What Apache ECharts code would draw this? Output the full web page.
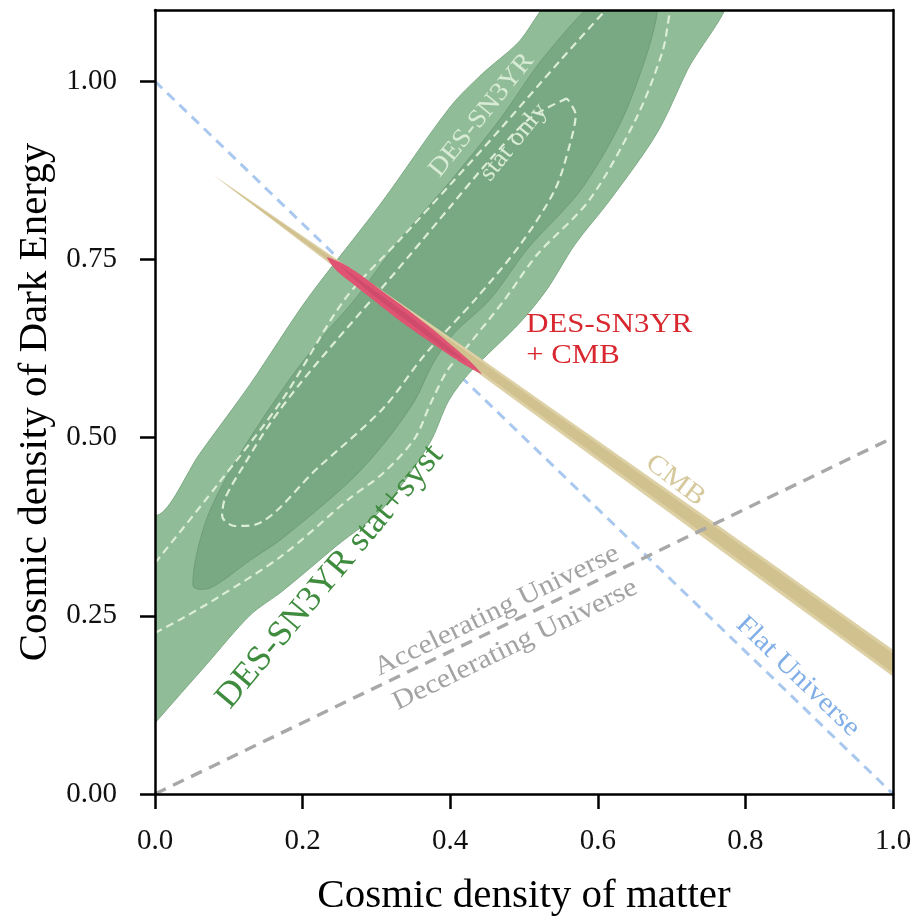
<!DOCTYPE html>
<html>
<head>
<meta charset="utf-8">
<script src="https://cdn.jsdelivr.net/npm/echarts@6/dist/echarts.min.js"></script>
<style>html,body{margin:0;padding:0;background:#fff}#chart{width:915px;height:922px}</style>
</head>
<body>
<div id="chart"></div>
<script>
// ---- tick values ----
const xTickValues = [0, 0.2, 0.4, 0.6, 0.8, 1.0];
const yTickValues = [0, 0.25, 0.5, 0.75, 1.0];

// ---- DES-SN3YR stat+syst contours (Omega_m, Omega_Lambda) ----
const sysOuter = [
  [0.003,0.391],[0.061,0.478],[0.129,0.575],[0.206,0.694],[0.305,0.827],[0.400,0.964],
  [0.444,1.011],[0.491,1.053],[0.552,1.125],[0.774,1.125],[0.721,1.015],[0.680,0.927],
  [0.617,0.834],[0.569,0.771],[0.531,0.708],[0.495,0.662],[0.427,0.592],[0.398,0.552],
  [0.372,0.492],[0.309,0.401],[0.247,0.349],[0.173,0.285],[0.129,0.251],[0.070,0.182],
  [0.003,0.103],[-0.04,0.05],[-0.04,0.45]
];
const sysInner = [
  [0.0515,0.292],[0.068,0.380],[0.106,0.461],[0.173,0.568],[0.224,0.638],[0.271,0.694],
  [0.332,0.778],[0.402,0.862],[0.467,0.946],[0.531,1.039],[0.614,1.125],[0.681,1.125],
  [0.644,0.973],[0.580,0.852],[0.504,0.764],[0.454,0.694],[0.404,0.645],[0.376,0.603],
  [0.352,0.552],[0.312,0.494],[0.264,0.439],[0.173,0.359],[0.129,0.328],[0.0745,0.289]
];
// ---- DES-SN3YR stat only (dashed) ----
const statOuter = [
  [0,0.324],[0.084,0.433],[0.173,0.554],[0.257,0.694],[0.332,0.778],[0.400,0.855],
  [0.467,0.932],[0.549,1.029],[0.610,1.099],[0.637,1.127],[0.705,1.127],[0.698,1.099],
  [0.688,1.043],[0.653,0.950],[0.589,0.834],[0.518,0.757],[0.474,0.694],[0.420,0.624],
  [0.396,0.594],[0.373,0.547],[0.352,0.499],[0.309,0.450],[0.264,0.415],[0.173,0.335],
  [0.084,0.275],[0.038,0.247],[0,0.226]
];
const statInner = [
  [0.558,0.976],[0.508,0.948],[0.454,0.890],[0.400,0.824],[0.346,0.757],[0.294,0.694],
  [0.247,0.638],[0.196,0.575],[0.156,0.520],[0.122,0.464],[0.095,0.415],[0.091,0.390],
  [0.108,0.376],[0.136,0.378],[0.220,0.457],[0.309,0.541],[0.366,0.617],[0.434,0.694],
  [0.495,0.771],[0.542,0.848],[0.562,0.911],[0.570,0.953],[0.558,0.976]
];
// ---- CMB band ----
const cmbOuter = [
  [0.0786,0.869],[0.237,0.757],[0.440,0.612],[0.752,0.385],[1.0,0.2025],
  [1.0,0.165],[0.752,0.353],[0.440,0.589],[0.237,0.744]
];
const cmbInner = [
  [0.088,0.861],[0.237,0.754],[0.440,0.608],[0.752,0.380],[1.0,0.197],
  [1.0,0.170],[0.752,0.359],[0.440,0.594],[0.237,0.747]
];
// ---- DES-SN3YR + CMB ----
const combOuter = [
  [0.233,0.753],[0.255,0.744],[0.278,0.729],[0.310,0.704],[0.343,0.679],[0.375,0.653],
  [0.406,0.626],[0.427,0.607],[0.443,0.589],[0.423,0.600],[0.400,0.615],[0.366,0.639],
  [0.333,0.663],[0.301,0.689],[0.269,0.715],[0.246,0.734]
];
const combInner = [
  [0.252,0.740],[0.290,0.712],[0.343,0.672],[0.398,0.627],[0.420,0.607],
  [0.395,0.622],[0.340,0.665],[0.286,0.708]
];
// ---- reference lines ----
const flatLine = [[0,1],[1,0]];
const accelLine = [[0,0],[1,0.5]];

// ---- annotations ----
const annotations = [
  {text:'DES-SN3YR', at:[0.4427,0.9524], rot:51, color:'#d8ebd5', size:26, sx:1.08},
  {text:'stat only', at:[0.4862,0.9145], rot:51, color:'#d8ebd5', size:25, sx:1.08},
  {text:'DES-SN3YR stat+syst', at:[0.237,0.305], rot:50, color:'#3f8c3f', size:35, sx:1.04},
  {text:'DES-SN3YR', at:[0.503,0.659], rot:0, color:'#d8272e', size:28, sx:1.1, align:'left'},
  {text:'+ CMB', at:[0.503,0.6145], rot:0, color:'#d8272e', size:28, sx:1.1, align:'left'},
  {text:'CMB', at:[0.705,0.440], rot:-37, color:'#d6c99d', size:27, sx:1.12},
  {text:'Accelerating Universe', at:[0.463,0.257], rot:26, color:'#a3a3a3', size:27, sx:1.11},
  {text:'Decelerating Universe', at:[0.488,0.209], rot:26, color:'#a3a3a3', size:27, sx:1.11},
  {text:'Flat Universe', at:[0.871,0.165], rot:-44, color:'#80aee6', size:27, sx:1.1}
];

const FONT = '"Liberation Serif", "Times New Roman", serif';

function polygonSeries(pts, fill, stroke, z, smooth) {
  return {
    type: 'custom', coordinateSystem: 'cartesian2d', clip: true, silent: true, z: z,
    data: [[pts[0][0], pts[0][1]]],
    renderItem: function (params, api) {
      return {
        type: 'polygon',
        shape: { points: pts.map(function (p) { return api.coord(p); }), smooth: smooth || 0 },
        style: { fill: fill, stroke: stroke || null, lineWidth: stroke ? 1 : 0 }
      };
    }
  };
}
function dashedSeries(pts, z) {
  return {
    type: 'line', data: pts, showSymbol: false, symbol: 'none', silent: true, clip: true,
    smooth: 0.3, z: z,
    lineStyle: { color: '#dcedd8', width: 2.2, type: [8, 5] }
  };
}
function refLine(pts, color, width, dash, z) {
  return {
    type: 'line', data: pts, showSymbol: false, symbol: 'none', silent: true, z: z,
    lineStyle: { color: color, width: width, type: dash }
  };
}
const textSeries = {
  type: 'custom', coordinateSystem: 'cartesian2d', silent: true, z: 20,
  data: annotations.map(function (a, i) { return [a.at[0], a.at[1], i]; }),
  renderItem: function (params, api) {
    const a = annotations[params.dataIndex];
    const p = api.coord(a.at);
    return {
      type: 'text', x: p[0], y: p[1], rotation: a.rot * Math.PI / 180,
      scaleX: a.sx || 1, scaleY: 1,
      style: { text: a.text, fill: a.color, font: a.size + 'px ' + FONT,
               align: a.align || 'center', verticalAlign: 'middle' }
    };
  }
};

const axisLineStyle = { color: '#000', width: 2.5 };
const chart = echarts.init(document.getElementById('chart'), null, { renderer: 'canvas' });
chart.setOption({
  animation: false,
  backgroundColor: '#fff',
  grid: { left: 155, right: 22, top: 10, bottom: 125, show: false },
  xAxis: [
    {
      type: 'value', min: 0, max: 1, interval: 0.2, position: 'bottom', z: 10,
      axisLine: { onZero: false, lineStyle: axisLineStyle },
      axisTick: { length: 15, lineStyle: { color: '#000', width: 2.5 }, customValues: xTickValues },
      axisLabel: { fontFamily: FONT, fontSize: 29, color: '#111', margin: 33,
                   customValues: xTickValues, formatter: function (v) { return v.toFixed(1); } },
      splitLine: { show: false },
      name: 'Cosmic density of matter', nameLocation: 'middle', nameGap: 82,
      nameTextStyle: { fontFamily: FONT, fontSize: 41, color: '#000' }
    },
    {
      type: 'value', min: 0, max: 1, position: 'top', z: 10,
      axisLine: { onZero: false, lineStyle: axisLineStyle },
      axisTick: { show: false }, axisLabel: { show: false }, splitLine: { show: false }
    }
  ],
  yAxis: [
    {
      type: 'value', min: 0, max: 1.1, interval: 0.25, position: 'left', z: 10,
      axisLine: { onZero: false, lineStyle: axisLineStyle },
      axisTick: { length: 15, lineStyle: { color: '#000', width: 2.5 }, customValues: yTickValues },
      axisLabel: { fontFamily: FONT, fontSize: 29, color: '#111', margin: 38,
                   customValues: yTickValues, formatter: function (v) { return v.toFixed(2); } },
      splitLine: { show: false },
      name: 'Cosmic density of Dark Energy', nameLocation: 'middle', nameGap: 78,
      nameTextStyle: { fontFamily: FONT, fontSize: 41, color: '#000' }
    },
    {
      type: 'value', min: 0, max: 1.1, position: 'right', z: 10,
      axisLine: { onZero: false, lineStyle: axisLineStyle },
      axisTick: { show: false }, axisLabel: { show: false }, splitLine: { show: false }
    }
  ],
  series: [
    refLine(flatLine, '#a9c8ef', 3, [10, 7], 1),
    polygonSeries(sysOuter, '#90bc98', '#7eab86', 2, 0.3),
    polygonSeries(sysInner, '#79a982', '#6e9d77', 3, 0.3),
    dashedSeries(statOuter, 4),
    dashedSeries(statInner, 4),
    polygonSeries(cmbOuter, '#ddd0a5', null, 5, 0),
    polygonSeries(cmbInner, '#d0c18f', null, 6, 0),
    polygonSeries(combOuter, '#de5472', null, 7, 0.2),
    polygonSeries(combInner, '#cf4b6c', null, 8, 0.2),
    refLine(accelLine, '#a8a8a8', 3.4, [12, 8], 9),
    textSeries
  ]
});
</script>
</body>
</html>
